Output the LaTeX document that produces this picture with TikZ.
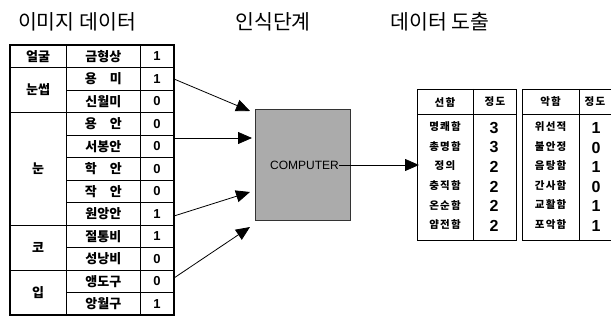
\documentclass[tikz,border=0pt]{standalone}
\usepackage{fontspec}
\setmainfont{Liberation Sans}
\newfontfamily\kr{Noto Sans CJK KR}
\newfontfamily\krw[LetterSpace=12]{Noto Sans CJK KR}
\usetikzlibrary{arrows.meta}
\tikzset{
  thinline/.style={line width=0.7pt},
  outerline/.style={line width=1.6pt},
  title/.style={font=\kr\fontsize{20.5}{21}\selectfont, inner sep=0pt},
  ltxt/.style={font=\kr\bfseries\fontsize{13}{13}\selectfont, inner sep=0pt},
  lnum/.style={font=\bfseries\fontsize{13}{13}\selectfont, inner sep=0pt},
  rtxt/.style={font=\krw\bfseries\fontsize{10.5}{11}\selectfont, inner sep=0pt},
  rnum/.style={font=\bfseries\fontsize{16}{16}\selectfont, inner sep=0pt},
  compbox/.style={draw=black!80, line width=0.6pt, fill=black!33, minimum width=95pt, minimum height=111pt, inner sep=0pt},
  arr/.style={line width=0.8pt, -{Triangle[length=14pt,width=12pt]}},
}
\begin{document}
\begin{tikzpicture}[x=1pt,y=-1pt]
\useasboundingbox (0,0) rectangle (611,320);
\clip (0,0) rectangle (611,320);
% titles
\node[title] (t1) at (77,22) {이미지 데이터};
\node[title] (t2) at (273,22) {인식단계};
\node[title] (t3) at (440,22) {데이터 도출};
% ---------- left table ----------
\def\rh{22.5}
\foreach \k in {2,4,5,6,7,9,11}
  \draw[thinline] (66.7,45+\k*\rh) -- (174,45+\k*\rh);
\foreach \k in {1,3,8,10}
  \draw[thinline] (10,45+\k*\rh) -- (174,45+\k*\rh);
\draw[thinline] (66.7,45) -- (66.7,315);
\draw[thinline] (140,45) -- (140,315);
\draw[outerline] (10,45) rectangle (174,315);
\foreach \t/\n [count=\i from 0] in {금형상/1,용\hspace{1em}미/1,신월미/0,용\hspace{1em}안/0,서봉안/0,학\hspace{1em}안/0,작\hspace{1em}안/0,원앙안/1,절통비/1,성낭비/0,앵도구/0,앙월구/1}{
  \node[ltxt] (m\i) at (103.3,45+\i*\rh+0.5*\rh) {\t};
  \node[lnum] (v\i) at (157,45+\i*\rh+0.5*\rh) {\n};
}
\node[ltxt] (g0) at (38,45+0.5*\rh) {얼굴};
\node[ltxt] (g1) at (38,45+2*\rh) {눈썹};
\node[ltxt] (g2) at (38,45+5.5*\rh) {눈};
\node[ltxt] (g3) at (38,45+9*\rh) {코};
\node[ltxt] (g4) at (38,45+11*\rh) {입};
% ---------- computer ----------
\node[compbox] (comp) at (302.5,164.5) {};
\node[font=\fontsize{12}{12}\selectfont, inner sep=0pt] (ctext) at (304.5,165) {COMPUTER};
% arrows in
\coordinate (s1) at (174,79);
\coordinate (s2) at (174,138);
\coordinate (s3) at (174,216);
\coordinate (s4) at (174,278);
\coordinate (e1) at (250,111);
\coordinate (e2) at (252,138);
\coordinate (e3) at (250,192);
\coordinate (e4) at (250,227);
\draw[arr] (s1) -- (e1);
\draw[arr] (s2) -- (e2);
\draw[arr] (s3) -- (e3);
\draw[arr] (s4) -- (e4);
% ---------- right tables ----------
\draw[thinline] (417,89) rectangle (516,240);
\draw[thinline] (417,114) -- (516,114);
\draw[thinline] (473.7,89) -- (473.7,240);
\draw[thinline] (612,89) -- (522,89) -- (522,240) -- (612,240);
\draw[thinline] (522,114) -- (612,114);
\draw[thinline] (579.3,89) -- (579.3,240);
\node[rtxt] (h1) at (445,102) {선함};
\node[rtxt] (h2) at (495,102) {정도};
\node[rtxt] (h3) at (550.6,102) {악함};
\node[rtxt] (h4) at (595,102) {정도};
\foreach \a/\b/\c/\d [count=\i from 0] in {명쾌함/3/위선적/1,총명함/3/불안정/0,정의/2/음탕함/1,충직함/2/간사함/0,온순함/2/교활함/1,얌전함/2/포악함/1}{
  \node[rtxt] (ga\i) at (445,127+\i*19.5) {\a};
  \node[rnum] (na\i) at (494,128+\i*19.5) {\b};
  \node[rtxt] (bb\i) at (550.6,127+\i*19.5) {\c};
  \node[rnum] (nb\i) at (596,128+\i*19.5) {\d};
}
% arrow out
\coordinate (tin) at (419,165);
\draw[arr] (ctext.east) -- (tin);
\end{tikzpicture}
\end{document}
